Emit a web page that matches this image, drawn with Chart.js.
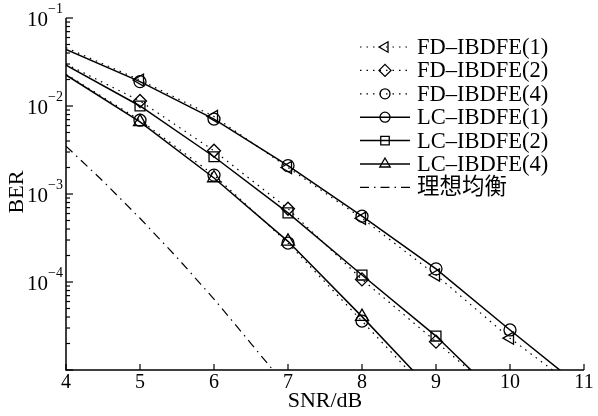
<!DOCTYPE html>
<html>
<head>
<meta charset="utf-8">
<script src="https://cdn.jsdelivr.net/npm/chart.js@4/dist/chart.umd.min.js"></script>
<style>
  body { margin: 0; background: #fff; }
  #wrap { width: 598px; height: 416px; }
</style>
</head>
<body>
<div id="wrap"><canvas id="myChart" width="598" height="416"></canvas></div>
<script>
// SNR points (dB)
var snr1 = [4, 5, 6, 7, 8, 9, 10, 11];
var snr2 = [4, 5, 6, 7, 8, 9, 10];
var snr4 = [4, 5, 6, 7, 8, 9];
var snrIdeal = [4, 4.5, 5, 5.5, 6, 6.5, 7];

// BER values
var fd1 = [0.046, 0.0197, 0.0076, 0.0020, 5.3e-4, 1.2e-4, 2.3e-5, 5.4e-6];
var fd2 = [0.030, 0.0114, 0.0031, 6.8e-4, 1.07e-4, 2.1e-5, 4.0e-6];
var fd4 = [0.023, 0.0069, 0.00164, 2.77e-4, 3.6e-5, 4.6e-6];
var lc1 = [0.044, 0.0189, 0.0071, 0.0021, 5.6e-4, 1.41e-4, 2.85e-5, 6.0e-6];
var lc2 = [0.0292, 0.0100, 0.00265, 6.1e-4, 1.2e-4, 2.43e-5, 3.7e-6];
var lc4 = [0.0225, 0.0066, 0.00152, 2.9e-4, 4.04e-5, 5.2e-6];
var ideal = [3.5e-3, 1.4e-3, 5.3e-4, 1.9e-4, 6.4e-5, 2.0e-5, 6.2e-6];

var seriesNames = ['FD\u2013IBDFE(1)', 'FD\u2013IBDFE(2)', 'FD\u2013IBDFE(4)',
                   'LC\u2013IBDFE(1)', 'LC\u2013IBDFE(2)', 'LC\u2013IBDFE(4)', '理想均衡'];

// tick labels
var xTicks = [4, 5, 6, 7, 8, 9, 10, 11];
var yExps = [-1, -2, -3, -4];
var xTitle = 'SNR/dB';
var yTitle = 'BER';

var FONT = '"Liberation Serif", "Times New Roman", "Noto Sans CJK SC", serif';
var DOTS = [1.5, 5];
var DASHDOT = [9, 5, 1.5, 5];

function pts(xs, ys) {
  return xs.map(function(x, i) { return { x: x, y: ys[i] }; });
}

// no marker on the first and last point of each curve
function markerRadius(r) {
  return function(c) {
    var n = c.dataset.data.length;
    return (c.dataIndex === 0 || c.dataIndex === n - 1) ? 0 : r;
  };
}

function series(label, xs, ys, dash, style, r, rot) {
  return {
    label: label,
    data: pts(xs, ys),
    borderColor: '#000',
    borderWidth: dash ? 1.2 : 1.5,
    borderDash: dash || [],
    pointStyle: style,
    pointRotation: rot || 0,
    pointRadius: style ? markerRadius(r) : 0,
    pointHoverRadius: 0,
    pointBorderColor: '#000',
    pointBackgroundColor: 'rgba(0,0,0,0)',
    pointBorderWidth: 1.3,
    tension: 0,
    fill: false
  };
}

var datasets = [
  series(seriesNames[0], snr1, fd1, DOTS, 'triangle', 7, -90),
  series(seriesNames[1], snr2, fd2, DOTS, 'rectRot', 6.5),
  series(seriesNames[2], snr4, fd4, DOTS, 'circle', 6),
  series(seriesNames[3], snr1, lc1, null, 'circle', 6),
  series(seriesNames[4], snr2, lc2, null, 'rect', 7),
  series(seriesNames[5], snr4, lc4, null, 'triangle', 7.5),
  series(seriesNames[6], snrIdeal, ideal, DASHDOT, false, 0)
];

// axes, inward ticks, labels and legend drawn by hand
var axesPlugin = {
  id: 'axesPlugin',
  afterDatasetsDraw: function(chart) {
    var ctx = chart.ctx;
    var a = chart.chartArea;
    var xs = chart.scales.x, ys = chart.scales.y;
    ctx.save();
    ctx.strokeStyle = '#000';
    ctx.fillStyle = '#000';
    ctx.setLineDash([]);
    ctx.lineWidth = 1.5;
    ctx.beginPath();
    ctx.moveTo(a.left, a.top);
    ctx.lineTo(a.left, a.bottom);
    ctx.lineTo(a.right, a.bottom);
    ctx.stroke();

    // x ticks
    ctx.lineWidth = 1.2;
    ctx.font = '20px ' + FONT;
    ctx.textAlign = 'center';
    ctx.textBaseline = 'top';
    xTicks.forEach(function(v) {
      var px = xs.getPixelForValue(v);
      ctx.beginPath();
      ctx.moveTo(px, a.bottom);
      ctx.lineTo(px, a.bottom - 6);
      ctx.stroke();
      ctx.fillText(String(v), px, a.bottom + 3);
    });

    // y ticks: majors and minors on the log axis
    for (var e = -5; e <= -1; e++) {
      var base = Math.pow(10, e);
      var py = ys.getPixelForValue(base);
      ctx.beginPath();
      ctx.moveTo(a.left, py);
      ctx.lineTo(a.left + 7, py);
      ctx.stroke();
      if (e < -1) {
        for (var m = 2; m <= 9; m++) {
          var pm = ys.getPixelForValue(m * base);
          ctx.beginPath();
          ctx.moveTo(a.left, pm);
          ctx.lineTo(a.left + 4, pm);
          ctx.stroke();
        }
      }
    }
    yExps.forEach(function(ex) {
      var py = ys.getPixelForValue(Math.pow(10, ex));
      var expTxt = '\u2212' + String(-ex);
      ctx.font = '14px ' + FONT;
      var ew = ctx.measureText(expTxt).width;
      ctx.textAlign = 'right';
      ctx.textBaseline = 'middle';
      ctx.fillText(expTxt, a.left - 3, py - 9);
      ctx.font = '21px ' + FONT;
      ctx.fillText('10', a.left - 3 - ew, py + 2);
    });

    // axis titles
    ctx.font = '22px ' + FONT;
    ctx.textAlign = 'center';
    ctx.textBaseline = 'middle';
    ctx.fillText(xTitle, 325, 401);
    ctx.save();
    ctx.translate(17, 192);
    ctx.rotate(-Math.PI / 2);
    ctx.fillText(yTitle, 0, 0);
    ctx.restore();

    // legend
    var lx0 = 360, lx1 = 410, ly = 47, step = 23.4;
    chart.data.datasets.forEach(function(ds, i) {
      var y = ly + i * step;
      ctx.strokeStyle = '#000';
      ctx.lineWidth = ds.borderWidth;
      ctx.setLineDash(ds.borderDash);
      ctx.beginPath();
      ctx.moveTo(lx0, y);
      ctx.lineTo(lx1, y);
      ctx.stroke();
      ctx.setLineDash([]);
      if (ds.pointStyle) {
        ctx.fillStyle = 'rgba(0,0,0,0)';
        ctx.lineWidth = 1.3;
        Chart.helpers.drawPoint(ctx, {
          pointStyle: ds.pointStyle,
          rotation: ds.pointRotation,
          radius: ds.pointStyle === 'circle' ? 5 : 6,
          borderWidth: 1.3
        }, (lx0 + lx1) / 2, y);
      }
      ctx.fillStyle = '#000';
      ctx.font = '22.5px ' + FONT;
      ctx.textAlign = 'left';
      ctx.textBaseline = 'middle';
      ctx.fillText(ds.label, 417, y + 1);
    });
    ctx.restore();
  }
};

var ctx = document.getElementById('myChart').getContext('2d');
var myChart = new Chart(ctx, {
  type: 'line',
  data: { datasets: datasets },
  options: {
    responsive: false,
    animation: false,
    devicePixelRatio: 1,
    layout: { padding: { left: 66, right: 14, top: 18, bottom: 46 } },
    scales: {
      x: {
        type: 'linear',
        min: 4,
        max: 11,
        ticks: { display: false },
        grid: { display: false, drawTicks: false },
        border: { display: false }
      },
      y: {
        type: 'logarithmic',
        min: 1e-5,
        max: 1e-1,
        ticks: { display: false },
        grid: { display: false, drawTicks: false },
        border: { display: false }
      }
    },
    plugins: {
      legend: { display: false },
      tooltip: { enabled: false }
    }
  },
  plugins: [axesPlugin]
});
</script>
</body>
</html>
